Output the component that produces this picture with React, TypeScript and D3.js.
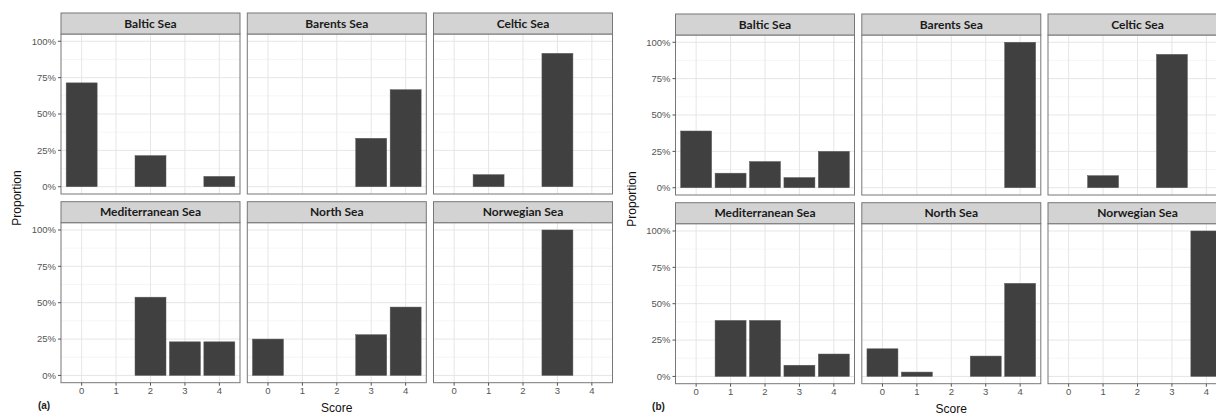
import React from "react";
import { scaleLinear, scalePoint, format } from "d3";

// facet labels and x categories
const seas = ["Baltic Sea", "Barents Sea", "Celtic Sea", "Mediterranean Sea", "North Sea", "Norwegian Sea"];
const scores = ["0", "1", "2", "3", "4"];
const yTicks = [0, 0.25, 0.5, 0.75, 1];
const yMinor = [0.125, 0.375, 0.625, 0.875];

// proportions per sea (rows follow `seas`, columns follow `scores`)
const proportionsA = [
  [0.714, 0, 0.214, 0, 0.071],
  [0, 0, 0, 0.333, 0.667],
  [0, 0.083, 0, 0.917, 0],
  [0, 0, 0.538, 0.231, 0.231],
  [0.25, 0, 0, 0.28, 0.47],
  [0, 0, 0, 1, 0],
];
const proportionsB = [
  [0.39, 0.1, 0.18, 0.07, 0.25],
  [0, 0, 0, 0, 1],
  [0, 0.083, 0, 0.917, 0],
  [0, 0.385, 0.385, 0.077, 0.154],
  [0.19, 0.03, 0, 0.14, 0.64],
  [0, 0, 0, 0, 1],
];

const pct = format(".0%");
const sans = "'Liberation Sans', Arial, sans-serif";
const stripFont = "Lato, 'Open Sans', sans-serif";

// layout of one facet figure
const panelLefts = [61, 247.3, 433.5];
const panelW = 179;
const stripH = 21;
const panelH = 160;
const rowTops = [13, 201.7];

function Facet({ name, values, x0, top }) {
  const pTop = top + stripH;
  const pBottom = pTop + panelH;
  const x = scalePoint().domain(scores).range([x0, x0 + panelW]).padding(0.6);
  const y = scaleLinear().domain([-0.05, 1.05]).range([pBottom, pTop]);
  const bw = x.step() * 0.9;
  return (
    <g>
      <rect x={x0} y={pTop} width={panelW} height={panelH} fill="#fff" />
      {yMinor.map((t) => (
        <line key={`mi${t}`} x1={x0} x2={x0 + panelW} y1={y(t)} y2={y(t)} stroke="#f0f0f0" strokeWidth={0.6} />
      ))}
      {yTicks.map((t) => (
        <line key={`ma${t}`} x1={x0} x2={x0 + panelW} y1={y(t)} y2={y(t)} stroke="#e6e6e6" strokeWidth={1} />
      ))}
      {scores.map((s) => (
        <line key={`v${s}`} x1={x(s)} x2={x(s)} y1={pTop} y2={pBottom} stroke="#e6e6e6" strokeWidth={1} />
      ))}
      {values.map((v, i) =>
        v > 0 ? (
          <rect
            key={`b${i}`}
            x={x(scores[i]) - bw / 2}
            y={y(v)}
            width={bw}
            height={y(0) - y(v)}
            fill="#404040"
            stroke="#5a5a5a"
            strokeWidth={0.5}
          />
        ) : null
      )}
      <rect x={x0} y={pTop} width={panelW} height={panelH} fill="none" stroke="#777" strokeWidth={1} />
      <rect x={x0} y={top} width={panelW} height={stripH} fill="#d3d3d3" stroke="#777" strokeWidth={1} />
      <text
        x={x0 + panelW / 2}
        y={top + stripH / 2}
        dy="0.35em"
        textAnchor="middle"
        fontFamily={stripFont}
        fontWeight="bold"
        fontSize={12}
        fill="#1a1a1a"
      >
        {name}
      </text>
    </g>
  );
}

function Figure({ data, dx, dy, tag }) {
  return (
    <g transform={`translate(${dx}, ${dy})`}>
      {seas.map((name, i) => (
        <Facet
          key={name}
          name={name}
          values={data[i]}
          x0={panelLefts[i % 3]}
          top={rowTops[Math.floor(i / 3)]}
        />
      ))}
      {/* y axes, one per row */}
      {rowTops.map((top) => {
        const pTop = top + stripH;
        const y = scaleLinear().domain([-0.05, 1.05]).range([pTop + panelH, pTop]);
        return (
          <g key={`ya${top}`}>
            {yTicks.map((t) => (
              <g key={t}>
                <line x1={panelLefts[0] - 3} x2={panelLefts[0]} y1={y(t)} y2={y(t)} stroke="#555" />
                <text
                  x={panelLefts[0] - 5}
                  y={y(t)}
                  dy="0.35em"
                  textAnchor="end"
                  fontFamily={sans}
                  fontSize={9.5}
                  fill="#555"
                >
                  {pct(t)}
                </text>
              </g>
            ))}
          </g>
        );
      })}
      {/* x axes under the bottom row */}
      {panelLefts.map((x0) => {
        const x = scalePoint().domain(scores).range([x0, x0 + panelW]).padding(0.6);
        const base = rowTops[1] + stripH + panelH;
        return (
          <g key={`xa${x0}`}>
            {scores.map((s) => (
              <g key={s}>
                <line x1={x(s)} x2={x(s)} y1={base} y2={base + 3} stroke="#555" />
                <text x={x(s)} y={base + 11.5} textAnchor="middle" fontFamily={sans} fontSize={9.5} fill="#555">
                  {s}
                </text>
              </g>
            ))}
          </g>
        );
      })}
      <text
        transform={`translate(17, 198) rotate(-90)`}
        textAnchor="middle"
        dy="0.35em"
        fontFamily={sans}
        fontSize={12}
        fill="#111"
      >
        Proportion
      </text>
      <text
        x={(panelLefts[0] + panelLefts[2] + panelW) / 2}
        y={408}
        dy="0.35em"
        textAnchor="middle"
        fontFamily={sans}
        fontSize={12}
        fill="#111"
      >
        Score
      </text>
      <text x={44} y={405} dy="0.35em" textAnchor="middle" fontFamily={sans} fontWeight="bold" fontSize={10} fill="#222">
        {tag}
      </text>
    </g>
  );
}

export default function App() {
  return (
    <div style={{ position: "absolute", left: 0, top: 0 }}>
      <svg width={1216} height={416} style={{ display: "block" }}>
        <rect width={1216} height={416} fill="#fff" />
        <Figure data={proportionsA} dx={0} dy={0} tag="(a)" />
        <Figure data={proportionsB} dx={614.5} dy={1} tag="(b)" />
      </svg>
    </div>
  );
}
